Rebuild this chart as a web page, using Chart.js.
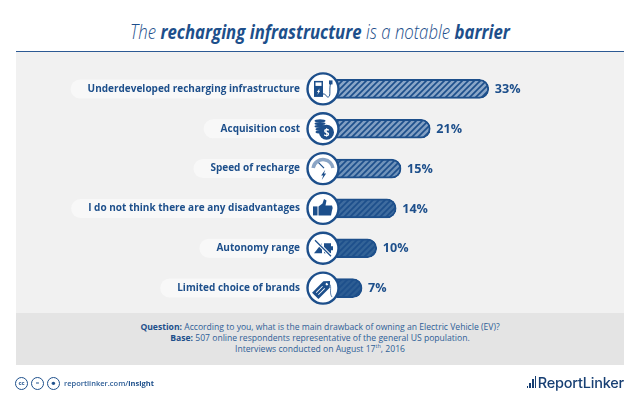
<!DOCTYPE html>
<html>
<head>
<meta charset="utf-8">
<title>Recharging infrastructure barrier</title>
<script src="https://cdn.jsdelivr.net/npm/chart.js@4/dist/chart.umd.min.js"></script>
<style>
    html, body { margin: 0; padding: 0; background: #fff; }
    body { position: relative; width: 640px; height: 403px; overflow: hidden; font-family: "Open Sans", sans-serif; color: #1d4f8b; }
    #title { position: absolute; left: 0; top: 18px; width: 640px; text-align: center; font-size: 19.5px; line-height: 27px; font-style: italic; font-weight: 300; transform: scaleX(0.86); }
    #title b { font-weight: 700; }
    #panel { position: absolute; left: 16px; top: 51px; width: 608px; height: 262px; background: #f1f1f1; border-top: 1px solid #2d5a94; box-sizing: border-box; }
    #notes { position: absolute; left: 16px; top: 313px; width: 608px; height: 52px; background: #e4e4e4; text-align: center; font-size: 8.6px; line-height: 10.9px; padding-top: 9px; box-sizing: border-box; color: #2e5e97; }
    #notes b { color: #1d4f8b; }
    #notes sup { font-size: 5.5px; line-height: 0; }
    #lineChart { position: absolute; left: 0; top: 0; }
    #footer { position: absolute; left: 15px; top: 376px; height: 14px; display: flex; align-items: center; font-size: 7.5px; color: #2e5e97; font-weight: 600; }
    #footer b { font-weight: 700; color: #1d4f8b; }
    .badge { width: 11px; height: 11px; border: 1px solid #1d4f8b; border-radius: 50%; margin-right: 3px; font-size: 6px; font-weight: 700; line-height: 11px; text-align: center; color: #1d4f8b; }
    .badge:nth-child(3) { margin-right: 4px; }
    #logo { position: absolute; right: 16px; top: 374px; font-family: Inter, sans-serif; font-size: 14.5px; line-height: 18px; font-weight: 500; color: #173f73; letter-spacing: -0.2px; }
    #logo i { display: inline-block; width: 1.6px; margin-right: 1.2px; background: #173f73; }
</style>
</head>
<body>
<div id="title">The <b>recharging infrastructure</b> is a notable <b>barrier</b></div>
<div id="panel"></div>
<div id="notes">
    <b>Question:</b> According to you, what is the main drawback of owning an Electric Vehicle (EV)?<br>
    <b>Base:</b> 507 online respondents representative of the general US population.<br>
    Interviews conducted on August 17<sup>th</sup>, 2016
</div>
<canvas id="lineChart" width="640" height="403"></canvas>
<div id="footer">
    <div class="badge">cc</div><div class="badge">=</div><div class="badge">&#9787;</div>
    <span>reportlinker.com/<b>insight</b></span>
</div>
<div id="logo"><i style="height:2px"></i><i style="height:5px"></i><i style="height:9px"></i><i style="height:12px"></i>ReportLinker</div>

<script>
var categories = [
    "Underdeveloped recharging infrastructure",
    "Acquisition cost",
    "Speed of recharge",
    "I do not think there are any disadvantages",
    "Autonomy range",
    "Limited choice of brands"
];
var percentages = [33, 21, 15, 14, 10, 7];
var stripeColors = ["#8aa6c8", "#829fc3", "#7093ba", "#3f6c9f", "#336397", "#2d5d93"];

var azul = "#1d4f8b";

// Franjas diagonales para el relleno de las barras
function crearRayas(color) {
    var c = document.createElement("canvas");
    c.width = 6;
    c.height = 6;
    var g = c.getContext("2d");
    g.fillStyle = azul;
    g.fillRect(0, 0, 6, 6);
    g.strokeStyle = color;
    g.lineWidth = 2.6;
    g.beginPath();
    g.moveTo(-3, 3); g.lineTo(3, -3);
    g.moveTo(0, 6); g.lineTo(6, 0);
    g.moveTo(3, 9); g.lineTo(9, 3);
    g.stroke();
    return g.createPattern(c, "repeat");
}

function bolt(ctx, x, y, s) {
    ctx.beginPath();
    ctx.moveTo(x + 1.5 * s, y - 4 * s);
    ctx.lineTo(x - 2 * s, y + 0.8 * s);
    ctx.lineTo(x - 0.2 * s, y + 0.8 * s);
    ctx.lineTo(x - 1.5 * s, y + 4.5 * s);
    ctx.lineTo(x + 2.2 * s, y - 0.8 * s);
    ctx.lineTo(x + 0.4 * s, y - 0.8 * s);
    ctx.closePath();
    ctx.fill();
}

// Un icono por categoria, centrado en (0, 0)
var iconos = [
    function (ctx) {
        ctx.fillRect(-9, -8, 9, 16);
        ctx.fillStyle = "#fff";
        ctx.fillRect(-7.5, -6.5, 6, 3.5);
        bolt(ctx, -4.5, 2.5, 0.8);
        ctx.beginPath();
        ctx.moveTo(0, 5);
        ctx.bezierCurveTo(4, 5, 3, 9, 5.5, 8);
        ctx.bezierCurveTo(8, 7, 6, 0, 7.5, -5);
        ctx.stroke();
        ctx.fillStyle = azul;
        ctx.fillRect(6, -8.5, 3.5, 4);
    },
    function (ctx) {
        for (var i = 0; i < 5; i++) {
            ctx.beginPath();
            ctx.ellipse(-3 + (i > 2 ? 1 : 0), -8 + i * 2.8, 5.5, 1.6, 0, 0, Math.PI * 2);
            ctx.fill();
        }
        ctx.beginPath();
        ctx.arc(3.5, 3.5, 7.5, 0, Math.PI * 2);
        ctx.fill();
        ctx.fillStyle = "#fff";
        ctx.font = "700 10px 'Open Sans'";
        ctx.textAlign = "center";
        ctx.textBaseline = "middle";
        ctx.fillText("$", 3.5, 4);
    },
    function (ctx) {
        ctx.strokeStyle = "#8ba5c5";
        ctx.lineWidth = 3.5;
        ctx.beginPath();
        ctx.arc(0, 1, 10, Math.PI * 1.05, Math.PI * 1.95);
        ctx.stroke();
        ctx.strokeStyle = azul;
        ctx.lineWidth = 1.2;
        ctx.beginPath();
        ctx.moveTo(-4.5, -6);
        ctx.lineTo(1, -0.5);
        ctx.stroke();
        bolt(ctx, 0.5, 6, 1.2);
    },
    function (ctx) {
        ctx.fillRect(-10, -2, 4.5, 9);
        ctx.beginPath();
        ctx.moveTo(-4.5, -2);
        ctx.lineTo(-0.5, -5);
        ctx.lineTo(1, -9.5);
        ctx.lineTo(3.5, -8);
        ctx.lineTo(2.5, -3);
        ctx.lineTo(9, -3);
        ctx.quadraticCurveTo(10.5, 0, 9, 2);
        ctx.lineTo(8, 7);
        ctx.lineTo(-4.5, 7);
        ctx.closePath();
        ctx.fill();
    },
    function (ctx) {
        ctx.beginPath();
        ctx.moveTo(-9, 5);
        ctx.lineTo(-1, -5);
        ctx.lineTo(-1, 5);
        ctx.closePath();
        ctx.fill();
        ctx.fillRect(1, -5, 7, 10);
        ctx.fillRect(8, -2, 2, 4);
        ctx.strokeStyle = "#fff";
        ctx.lineWidth = 3.2;
        ctx.beginPath();
        ctx.moveTo(-8, -8);
        ctx.lineTo(8, 8);
        ctx.stroke();
        ctx.strokeStyle = azul;
        ctx.lineWidth = 1.2;
        ctx.beginPath();
        ctx.moveTo(-8, -8);
        ctx.lineTo(8, 8);
        ctx.stroke();
    },
    function (ctx) {
        ctx.save();
        ctx.rotate(-Math.PI / 4);
        ctx.beginPath();
        ctx.moveTo(-11, -4.5);
        ctx.lineTo(5, -4.5);
        ctx.lineTo(10, 0);
        ctx.lineTo(5, 4.5);
        ctx.lineTo(-11, 4.5);
        ctx.closePath();
        ctx.fill();
        ctx.fillStyle = "#fff";
        ctx.beginPath();
        ctx.arc(5.5, 0, 1.3, 0, Math.PI * 2);
        ctx.fill();
        ctx.fillRect(-8, -2, 9, 0.8);
        ctx.fillRect(-8, 1, 9, 0.8);
        ctx.restore();
        ctx.lineWidth = 0.7;
        ctx.beginPath();
        ctx.moveTo(4, -5);
        ctx.bezierCurveTo(11, -4, 5, 4, 9, 9);
        ctx.stroke();
    }
];

// Pastillas detras de las etiquetas del eje
var pastillas = {
    id: "pastillas",
    beforeDraw: function (chart) {
        var ctx = chart.ctx;
        var y = chart.scales.y;
        ctx.save();
        ctx.font = "700 10px 'Open Sans'";
        ctx.fillStyle = "#f8f8f8";
        categories.forEach(function (nombre, i) {
            var py = y.getPixelForValue(i);
            var ancho = ctx.measureText(nombre).width;
            ctx.beginPath();
            ctx.roundRect(300 - ancho - 17, py - 9.5, ancho + 35, 19, 9.5);
            ctx.fill();
        });
        ctx.restore();
    }
};

// Circulos con icono y porcentaje al final de cada barra
var decoracion = {
    id: "decoracion",
    afterDatasetsDraw: function (chart) {
        var ctx = chart.ctx;
        var x = chart.scales.x;
        var y = chart.scales.y;
        percentages.forEach(function (valor, i) {
            var py = y.getPixelForValue(i);
            ctx.save();
            ctx.fillStyle = azul;
            ctx.font = "700 12.6px 'Open Sans'";
            ctx.textAlign = "left";
            ctx.textBaseline = "middle";
            ctx.fillText(valor + "%", x.getPixelForValue(valor) + 6, py + 0.5);

            ctx.translate(x.getPixelForValue(0) - 5, py);
            ctx.beginPath();
            ctx.arc(0, 0, 15.5, 0, Math.PI * 2);
            ctx.fillStyle = "#fff";
            ctx.fill();
            ctx.strokeStyle = azul;
            ctx.lineWidth = 2.4;
            ctx.stroke();
            ctx.fillStyle = azul;
            ctx.lineWidth = 1;
            iconos[i](ctx);
            ctx.restore();
        });
    }
};

var config = {
    type: "bar",
    data: {
        labels: categories,
        datasets: [{
            data: percentages,
            backgroundColor: stripeColors.map(crearRayas),
            borderColor: azul,
            borderWidth: 2,
            borderSkipped: false,
            borderRadius: 10,
            barThickness: 19
        }]
    },
    options: {
        indexAxis: "y",
        responsive: false,
        animation: false,
        layout: { padding: { top: 69, bottom: 95, left: 0, right: 44 } },
        plugins: { legend: { display: false }, tooltip: { enabled: false } },
        scales: {
            x: { display: false, min: 0, max: 55 },
            y: {
                afterFit: function (scale) { scale.width = 328; },
                grid: { display: false },
                border: { display: false },
                ticks: {
                    color: azul,
                    padding: 20,
                    autoSkip: false,
                    font: { family: "'Open Sans'", size: 10, weight: "700" }
                }
            }
        }
    },
    plugins: [pastillas, decoracion]
};

new Chart(document.getElementById("lineChart"), config);
</script>
</body>
</html>
